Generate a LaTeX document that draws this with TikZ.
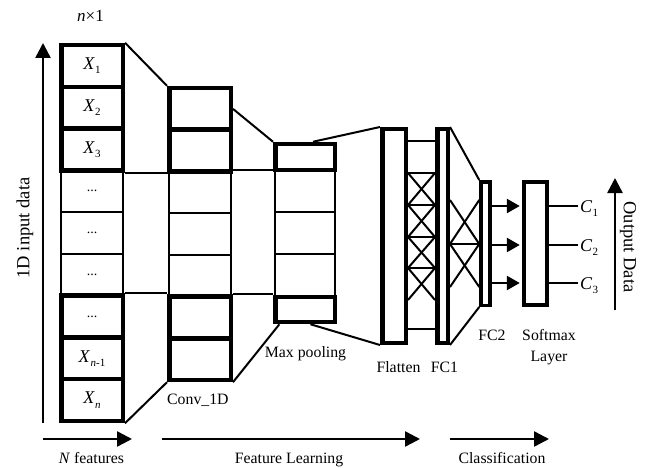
\documentclass[tikz,border=0pt]{standalone}
\usepackage{fontspec}
\setmainfont{Liberation Serif}
\usetikzlibrary{arrows.meta,calc}
\newcommand{\mysub}[2]{\textit{#1}\kern0.3pt\raisebox{-0.5ex}{\fontsize{11}{11}\selectfont #2}}
\begin{document}
\begin{tikzpicture}[x=1pt,y=-1pt,
  cellthin/.style={draw, line width=2pt, inner sep=0pt, font=\fontsize{18}{20}\selectfont},
  cellthick/.style={draw, line width=4.5pt, inner sep=0pt, font=\fontsize{18}{20}\selectfont},
  conn/.style={line width=2pt},
  bigarrow/.style={line width=2.5pt, -{Triangle[length=15pt,width=15pt]}},
  smallarrow/.style={line width=2.5pt, -{Triangle[length=13pt,width=14pt]}, shorten >=2pt},
  lbl/.style={inner sep=0pt, font=\fontsize{15.8}{21}\selectfont},
  biglbl/.style={inner sep=0pt, font=\fontsize{18.5}{20}\selectfont},
  dots/.style={font=\fontsize{14}{14}\selectfont}
]
\useasboundingbox (0,0) rectangle (645,468);

% ---------- input column ----------
\node[cellthin, minimum width=61.5pt, minimum height=41.8pt, dots] (in4) at (92,191.2) {...};
\node[cellthin, minimum width=61.5pt, minimum height=41.8pt, dots] (in5) at (92,233) {...};
\node[cellthin, minimum width=61.5pt, minimum height=41.8pt, dots] (in6) at (92,274.8) {...};
\node[cellthick, minimum width=61.5pt, minimum height=41.8pt] (in1) at (92,65.9) {\mysub{X}{1}};
\node[cellthick, minimum width=61.5pt, minimum height=41.8pt] (in2) at (92,107.7) {\mysub{X}{2}};
\node[cellthick, minimum width=61.5pt, minimum height=41.8pt] (in3) at (92,149.4) {\mysub{X}{3}};
\node[cellthick, minimum width=61.5pt, minimum height=41.8pt, dots] (in7) at (92,316.6) {...};
\node[cellthick, minimum width=61.5pt, minimum height=41.8pt] (in8) at (92,358.3) {\textit{X}\kern0.3pt\raisebox{-0.5ex}{\fontsize{11}{11}\selectfont\textit{n}-1}};
\node[cellthick, minimum width=61.5pt, minimum height=41.8pt] (in9) at (92,400.1) {\textit{X}\kern0.3pt\raisebox{-0.5ex}{\fontsize{11}{11}\selectfont\textit{n}}};

% ---------- conv column ----------
\node[cellthin, minimum width=61.5pt, minimum height=41.7pt] (cv3) at (200,192.3) {};
\node[cellthin, minimum width=61.5pt, minimum height=41.7pt] (cv4) at (200,234) {};
\node[cellthin, minimum width=61.5pt, minimum height=41.7pt] (cv5) at (200,275.7) {};
\node[cellthick, minimum width=61.5pt, minimum height=41.7pt] (cv1) at (200,108.9) {};
\node[cellthick, minimum width=61.5pt, minimum height=41.7pt] (cv2) at (200,150.6) {};
\node[cellthick, minimum width=61.5pt, minimum height=41.7pt] (cv6) at (200,317.4) {};
\node[cellthick, minimum width=61.5pt, minimum height=41.7pt] (cv7) at (200,359.1) {};

% ---------- pooling column ----------
\node[cellthin, minimum width=59.5pt, minimum height=42pt] (pl2) at (305,191) {};
\node[cellthin, minimum width=59.5pt, minimum height=42pt] (pl3) at (305,233) {};
\node[cellthin, minimum width=59.5pt, minimum height=43pt] (pl4) at (305,275.5) {};
\node[cellthick, minimum width=59.5pt, minimum height=26pt] (pl1) at (305,157) {};
\node[cellthick, minimum width=59.5pt, minimum height=25pt] (pl5) at (305,309.5) {};

% ---------- dense layers ----------
\node[cellthick, minimum width=23.5pt, minimum height=213.5pt] (fl) at (394,236) {};
\node[cellthick, minimum width=10.5pt, minimum height=213.5pt] (fc1) at (442.5,236) {};
\node[draw, line width=3.5pt, inner sep=0pt, minimum width=9pt, minimum height=123.5pt] (fc2) at (485.5,243.5) {};
\node[cellthick, minimum width=23pt, minimum height=123pt] (sm) at (535.5,243.5) {};

% ---------- connectors input -> conv -> pool ----------
\draw[conn] (in1.north east) -- (cv1.north west);
\draw[conn] (in9.south east) -- (cv7.south west);
\draw[conn] (in3.south east) -- (in3.south east -| cv3.west);
\draw[conn] (cv3.north east) -- (cv3.north east -| pl2.west);
\draw[conn] (in7.north east) -- (in7.north east -| cv6.west);
\draw[conn] (cv6.north east) -- (cv6.north east -| pl5.west);
\draw[conn] (cv1.east) -- (pl1.north west);
\draw[conn] (cv7.south east) -- ($(pl5.south west)!0.1!(pl5.south east)$);
\draw[conn] ($(pl1.north)!0.25!(pl1.north east)$) -- (fl.north west);
\draw[conn] ($(pl5.south)!0.17!(pl5.south east)$) -- (fl.south west);

% ---------- flatten -> FC1 ----------
\foreach \y in {141,173,205,237,268,329}
  \draw[conn] (fl.east |- {(0,\y)}) -- (fc1.west |- {(0,\y)});
\foreach \ya/\yb in {173/205,205/237,237/268,268/300}{
  \draw[conn] (fl.east |- {(0,\ya)}) -- (fc1.west |- {(0,\yb)});
  \draw[conn] (fl.east |- {(0,\yb)}) -- (fc1.west |- {(0,\ya)});
}

% ---------- FC1 -> FC2 ----------
\draw[conn] (fc1.north east) -- (fc2.north west);
\draw[conn] (fc1.south east) -- (fc2.south west);
\draw[conn] (fc1.east |- {(0,244)}) -- (fc2.west |- {(0,244)});
\foreach \ya/\yb in {200/244,244/287}{
  \draw[conn] (fc1.east |- {(0,\ya)}) -- (fc2.west |- {(0,\yb)});
  \draw[conn] (fc1.east |- {(0,\yb)}) -- (fc2.west |- {(0,\ya)});
}

% ---------- FC2 -> softmax -> outputs ----------
\coordinate (c1e) at (578,206);
\coordinate (c2e) at (578,245);
\coordinate (c3e) at (578,283);
\foreach \c in {c1e,c2e,c3e}{
  \draw[smallarrow] (fc2.east |- \c) -- (sm.west |- \c);
  \draw[conn] (sm.east |- \c) -- (\c);
}
\node[inner sep=0pt, anchor=base west, font=\fontsize{18}{20}\selectfont] (c1) at (580,212.5) {\mysub{C}{1}};
\node[inner sep=0pt, anchor=base west, font=\fontsize{18}{20}\selectfont] (c2) at (580,251.5) {\mysub{C}{2}};
\node[inner sep=0pt, anchor=base west, font=\fontsize{18}{20}\selectfont] (c3) at (580,289.5) {\mysub{C}{3}};

% ---------- side arrows ----------
\coordinate (ins) at (43,423);
\coordinate (ine) at (43,43);
\draw[bigarrow] (ins) -- (ine);
\node[biglbl, rotate=90] (lin) at (25,228) {1D input data};

\coordinate (ods) at (615,310);
\coordinate (ode) at (615,178);
\draw[bigarrow] (ods) -- (ode);
\node[biglbl, rotate=-90] (lout) at (628,247) {Output Data};

% ---------- bottom arrows ----------
\coordinate (b1s) at (43,439);  \coordinate (b1e) at (132,439);
\coordinate (b2s) at (162,439); \coordinate (b2e) at (420,439);
\coordinate (b3s) at (450,439); \coordinate (b3e) at (549,439);
\draw[bigarrow] (b1s) -- (b1e);
\draw[bigarrow] (b2s) -- (b2e);
\draw[bigarrow] (b3s) -- (b3e);
\node[lbl, anchor=base] (lnf) at (91.5,463) {\textit{N} features};
\node[lbl, anchor=base] (lfl) at (289,463) {Feature Learning};
\node[lbl, anchor=base] (lcl) at (502,463) {Classification};

% ---------- layer labels ----------
\node[lbl, anchor=base, font=\fontsize{17}{20}\selectfont] (ldim) at (90.5,22) {\textit{n}×1};
\node[lbl, anchor=base west] (lconv) at (167,404) {Conv\_1D};
\node[lbl, anchor=base] (lpool) at (305.5,357) {Max pooling};
\node[lbl, anchor=base] (lflat) at (398.5,372) {Flatten};
\node[lbl, anchor=base] (lfc1) at (444.5,372) {FC1};
\node[lbl, anchor=base] (lfc2) at (492,340) {FC2};
\node[lbl, align=center, anchor=north] (lsm) at (549,329) {Softmax\\Layer};
\end{tikzpicture}
\end{document}
